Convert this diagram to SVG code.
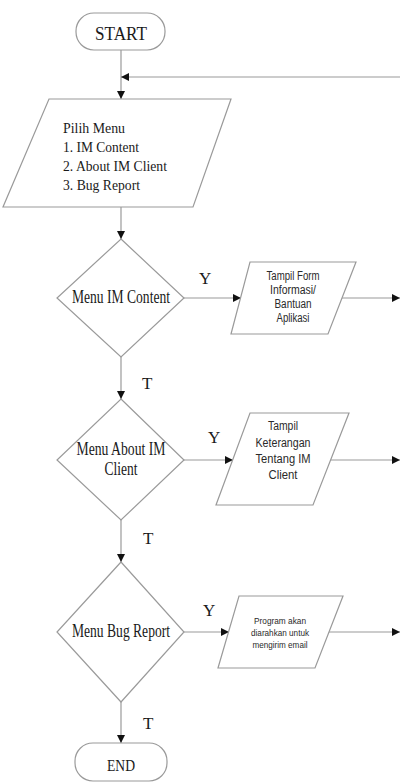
<svg xmlns="http://www.w3.org/2000/svg" width="400" height="783" viewBox="0 0 400 783">
  <defs>
    <marker id="arrow" viewBox="0 0 10 10" refX="10" refY="5" markerWidth="8" markerHeight="8" markerUnits="userSpaceOnUse" orient="auto">
      <path d="M0,0 L10,5 L0,10 Z" fill="#111"/>
    </marker>
  </defs>
  <style>
    .shape { fill: #fff; stroke: #9a9a9a; stroke-width: 1.2; }
    .line { fill: none; stroke: #9a9a9a; stroke-width: 1.2; }
    .serif { font-family: "Liberation Serif", "Times New Roman", serif; fill: #1a1a1a; }
    .sans { font-family: "Liberation Sans", Arial, sans-serif; fill: #2a2a2a; }
    .mid { text-anchor: middle; }
  </style>
  <rect width="400" height="783" fill="#fff"/>

  <!-- connectors -->
  <g id="connectors">
    <line class="line" x1="121" y1="50" x2="121" y2="99" marker-end="url(#arrow)"/>
    <line class="line" x1="400" y1="77" x2="121" y2="77" marker-end="url(#arrow)"/>
    <line class="line" x1="121" y1="207" x2="121" y2="239" marker-end="url(#arrow)"/>
    <line class="line" x1="184" y1="298" x2="241" y2="298" marker-end="url(#arrow)"/>
    <line class="line" x1="342" y1="298" x2="400" y2="298" marker-end="url(#arrow)"/>
    <line class="line" x1="121" y1="357" x2="121" y2="399" marker-end="url(#arrow)"/>
    <line class="line" x1="184" y1="460" x2="233" y2="460" marker-end="url(#arrow)"/>
    <line class="line" x1="331" y1="460" x2="400" y2="460" marker-end="url(#arrow)"/>
    <line class="line" x1="121" y1="520" x2="121" y2="562" marker-end="url(#arrow)"/>
    <line class="line" x1="184" y1="632" x2="229" y2="632" marker-end="url(#arrow)"/>
    <line class="line" x1="329" y1="632" x2="400" y2="632" marker-end="url(#arrow)"/>
    <line class="line" x1="121" y1="702" x2="121" y2="743" marker-end="url(#arrow)"/>
    <text class="serif" x="199" y="284" font-size="17">Y</text>
    <text class="serif" x="142" y="389" font-size="17">T</text>
    <text class="serif" x="208" y="443" font-size="17">Y</text>
    <text class="serif" x="143" y="544" font-size="17">T</text>
    <text class="serif" x="203" y="616" font-size="17">Y</text>
    <text class="serif" x="143" y="729" font-size="17">T</text>
  </g>

  <g id="start">
    <rect class="shape" x="76" y="13" width="89" height="37" rx="18" ry="18"/>
    <text class="serif mid" x="121" y="40" font-size="19" textLength="52" lengthAdjust="spacingAndGlyphs">START</text>
  </g>

  <g id="pilih-menu">
    <polygon class="shape" points="49,99 231,99 193,207 3,207"/>
    <text class="serif" x="63" y="133" font-size="15.5" textLength="62" lengthAdjust="spacingAndGlyphs">Pilih Menu</text>
    <text class="serif" x="63" y="152" font-size="15.5" textLength="76" lengthAdjust="spacingAndGlyphs">1. IM Content</text>
    <text class="serif" x="63" y="171" font-size="15.5" textLength="104" lengthAdjust="spacingAndGlyphs">2. About IM Client</text>
    <text class="serif" x="63" y="190" font-size="15.5" textLength="77" lengthAdjust="spacingAndGlyphs">3. Bug Report</text>
  </g>

  <g id="menu-im-content">
    <polygon class="shape" points="121,239 184,298 121,357 57,298"/>
    <text class="serif mid" x="121" y="303" font-size="18" textLength="98" lengthAdjust="spacingAndGlyphs">Menu IM Content</text>
  </g>

  <g id="form-informasi">
    <polygon class="shape" points="250,262 356,262 328,334 231,334"/>
    <g class="sans mid" font-size="12">
      <text x="293" y="280" textLength="53" lengthAdjust="spacingAndGlyphs">Tampil Form</text>
      <text x="293" y="294" textLength="46" lengthAdjust="spacingAndGlyphs">Informasi/</text>
      <text x="293" y="308" textLength="37" lengthAdjust="spacingAndGlyphs">Bantuan</text>
      <text x="293" y="322" textLength="33" lengthAdjust="spacingAndGlyphs">Aplikasi</text>
    </g>
  </g>

  <g id="menu-about">
    <polygon class="shape" points="121,399 184,460 121,520 57,460"/>
    <text class="serif mid" x="121" y="455" font-size="18" textLength="89" lengthAdjust="spacingAndGlyphs">Menu About IM</text>
    <text class="serif mid" x="121" y="475" font-size="18" textLength="33" lengthAdjust="spacingAndGlyphs">Client</text>
  </g>

  <g id="keterangan">
    <polygon class="shape" points="250,413 349,413 313,505 216,505"/>
    <g class="sans mid" font-size="12.5">
      <text x="283" y="430" textLength="30" lengthAdjust="spacingAndGlyphs">Tampil</text>
      <text x="283" y="447" textLength="55" lengthAdjust="spacingAndGlyphs">Keterangan</text>
      <text x="283" y="463" textLength="55" lengthAdjust="spacingAndGlyphs">Tentang IM</text>
      <text x="283" y="479" textLength="29" lengthAdjust="spacingAndGlyphs">Client</text>
    </g>
  </g>

  <g id="menu-bug">
    <polygon class="shape" points="121,562 184,632 121,702 57,632"/>
    <text class="serif mid" x="121" y="637" font-size="18" textLength="98" lengthAdjust="spacingAndGlyphs">Menu Bug Report</text>
  </g>

  <g id="kirim-email">
    <polygon class="shape" points="239,596 343,596 315,668 218,668"/>
    <g class="sans mid" font-size="9">
      <text x="280" y="624" textLength="52" lengthAdjust="spacingAndGlyphs">Program akan</text>
      <text x="280" y="636" textLength="58" lengthAdjust="spacingAndGlyphs">diarahkan untuk</text>
      <text x="280" y="648" textLength="55" lengthAdjust="spacingAndGlyphs">mengirim email</text>
    </g>
  </g>

  <g id="end">
    <rect class="shape" x="75" y="743" width="92" height="38" rx="18" ry="18"/>
    <text class="serif mid" x="121" y="771" font-size="16" textLength="28" lengthAdjust="spacingAndGlyphs">END</text>
  </g>
</svg>
